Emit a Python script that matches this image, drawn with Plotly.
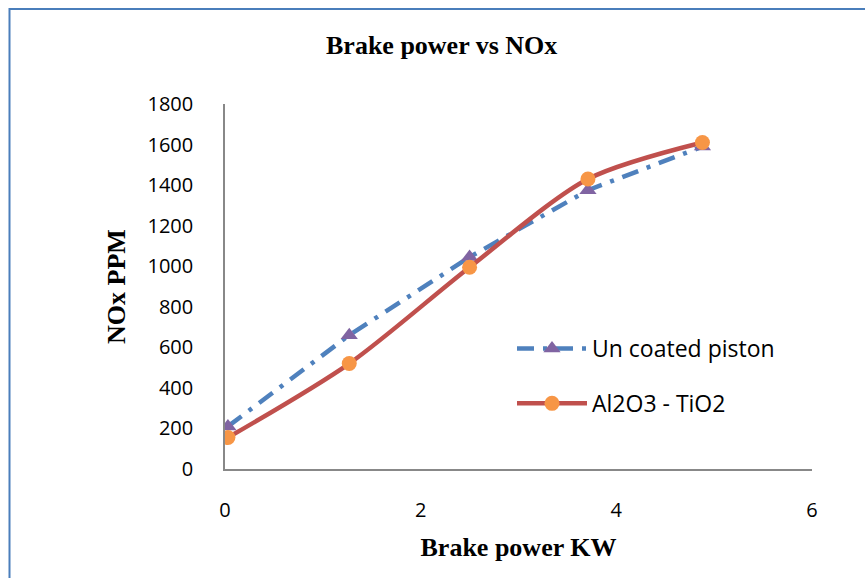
import plotly.graph_objects as go

brake_power_uncoated = [0.03, 1.27, 2.5, 3.71, 4.88]
nox_uncoated = [210, 660, 1045, 1375, 1590]
brake_power_coated = [0.03, 1.27, 2.5, 3.71, 4.88]
nox_coated = [155, 520, 995, 1430, 1610]

W, H = 865, 578
L, R, T, B = 225, 53, 104, 109
pw, ph = W - L - R, H - T - B

def px(x):
    return (x - L) / pw

def py(y):
    return (H - B - y) / ph

fig = go.Figure()
fig.add_trace(go.Scatter(
    x=brake_power_uncoated, y=nox_uncoated, name="Un coated piston",
    mode="lines+markers", legendgroup="a",
    line=dict(color="#4F81BD", width=4.5, dash="17px,9px,4px,9px"),
    marker=dict(symbol="triangle-up", color="#8064A2", size=15),
))
fig.add_trace(go.Scatter(
    x=brake_power_coated, y=nox_coated, name="Al2O3 - TiO2",
    mode="lines+markers", legendgroup="b",
    line=dict(color="#C0504D", width=4.5, shape="spline", smoothing=0.8),
    marker=dict(symbol="circle", color="#F79646", size=15),
))

fig.update_layout(
    width=W, height=H,
    margin=dict(l=L, r=R, t=T, b=B),
    paper_bgcolor="white", plot_bgcolor="white",
    font=dict(family="Open Sans, Liberation Sans", size=20, color="black"),
    showlegend=True,
    legend=dict(x=px(512), y=py(327), xanchor="left", yanchor="top",
                font=dict(family="Open Sans", size=23), traceorder="grouped",
                itemwidth=70,
                tracegroupgap=22, bgcolor="rgba(0,0,0,0)"),
    xaxis=dict(range=[0, 6], tickvals=[0, 2, 4, 6], showgrid=False, zeroline=False,
               showline=True, linecolor="#888888", linewidth=1.5, ticks="",
               ticklabelstandoff=22,
               title=dict(text="<b>Brake power KW</b>",
                          font=dict(family="Liberation Serif", size=26), standoff=16)),
    yaxis=dict(range=[0, 1800], tickvals=list(range(0, 1801, 200)), showgrid=False,
               zeroline=False, showline=True, linecolor="#888888", linewidth=1.5,
               ticks="", ticklabelstandoff=26,
               title=dict(text="<b>NOx PPM</b>",
                          font=dict(family="Liberation Serif", size=26), standoff=14)),
    annotations=[dict(text="<b>Brake power vs NOx</b>", xref="paper", yref="paper",
                      x=px(441), y=py(45), xanchor="center", yanchor="middle",
                      showarrow=False,
                      font=dict(family="Liberation Serif", size=26, color="black"))],
    shapes=[dict(type="rect", xref="paper", yref="paper",
                 x0=px(9.5), y0=py(600), x1=px(880), y1=py(9),
                 line=dict(color="#4A7EBB", width=2), layer="below")],
)

fig.write_html("out.html")
